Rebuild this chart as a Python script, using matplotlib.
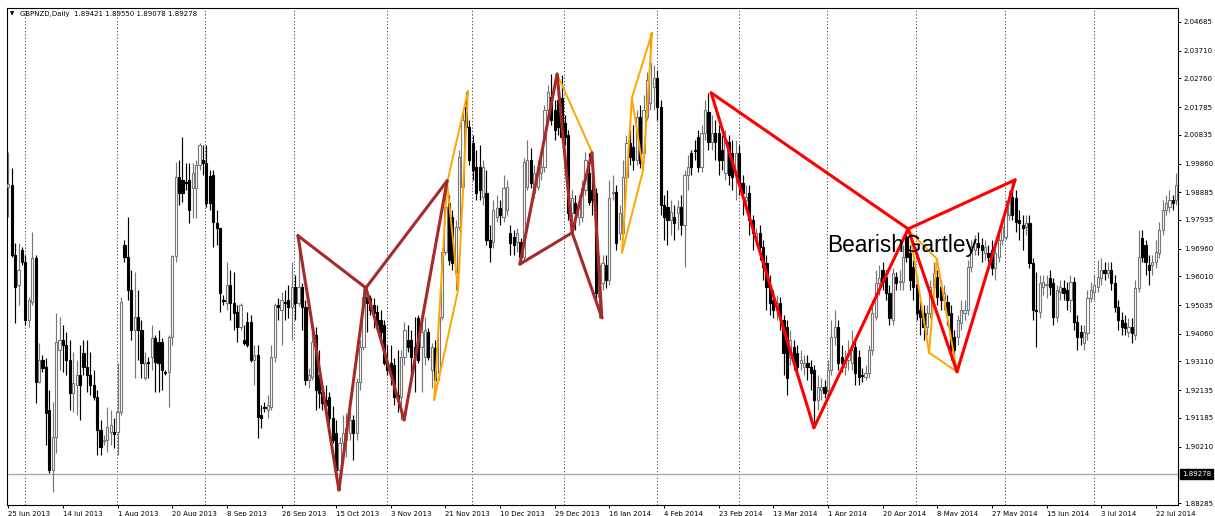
import matplotlib
matplotlib.use('Agg')
import matplotlib.pyplot as plt
from matplotlib.transforms import blended_transform_factory

# ---------------- data (GBPNZD daily) ----------------
opens = [
1.9906, 1.9913, 1.9674, 1.9572, 1.9691, 1.9650, 1.9453, 1.9514, 1.9664, 1.9241,
1.9316, 1.9292, 1.9146, 1.8941, 1.9054, 1.9350, 1.9384, 1.9367, 1.9316, 1.9204,
1.9231, 1.9265, 1.9340, 1.9292, 1.9265, 1.9231, 1.9190, 1.9078, 1.9041, 1.9044,
1.9071, 1.9071, 1.9071, 1.9139, 1.9708, 1.9667, 1.9555, 1.9419, 1.9463, 1.9419,
1.9255, 1.9309, 1.9326, 1.9391, 1.9377, 1.9377, 1.9275, 1.9275, 1.9395, 1.9671,
1.9940, 1.9930, 1.9923, 1.9930, 1.9903, 1.9903, 1.9981, 1.9998, 1.9988, 1.9944,
1.9947, 1.9783, 1.9766, 1.9521, 1.9511, 1.9572, 1.9511, 1.9480, 1.9429, 1.9384,
1.9446, 1.9446, 1.9316, 1.9333, 1.9129, 1.9156, 1.9146, 1.9156, 1.9326, 1.9504,
1.9487, 1.9514, 1.9521, 1.9497, 1.9565, 1.9511, 1.9565, 1.9497, 1.9248, 1.9258,
1.9402, 1.9265, 1.9207, 1.9180, 1.9190, 1.9119, 1.9068, 1.8941, 1.9034, 1.9044,
1.9068, 1.9112, 1.9068, 1.9241, 1.9360, 1.9531, 1.9528, 1.9504, 1.9480, 1.9453,
1.9436, 1.9306, 1.9306, 1.9299, 1.9197, 1.9190, 1.9326, 1.9384, 1.9384, 1.9360,
1.9460, 1.9360, 1.9326, 1.9412, 1.9282, 1.9357, 1.9272, 1.9463, 1.9684, 1.9852,
1.9804, 1.9613, 1.9770, 1.9906, 2.0179, 2.0110, 2.0056, 1.9974, 1.9974, 1.9872,
1.9886, 1.9725, 1.9718, 1.9804, 1.9834, 1.9804, 1.9828, 1.9749, 1.9735, 1.9718,
1.9718, 1.9667, 1.9906, 1.9998, 1.9886, 1.9906, 1.9954, 1.9974, 2.0168, 2.0213,
2.0168, 2.0203, 2.0210, 2.0124, 2.0083, 1.9817, 1.9852, 1.9804, 1.9804, 1.9896,
1.9954, 1.9896, 1.9886, 1.9531, 1.9579, 1.9640, 1.9589, 1.9886, 1.9889, 1.9749,
1.9749, 1.9940, 2.0056, 2.0042, 1.9998, 2.0144, 2.0022, 2.0144, 2.0193, 2.0247,
2.0278, 2.0179, 1.9845, 1.9838, 1.9793, 1.9804, 1.9817, 1.9838, 1.9776, 1.9947,
2.0022, 2.0032, 2.0076, 1.9974, 2.0090, 2.0161, 2.0059, 2.0090, 2.0090, 2.0032,
1.9954, 2.0059, 2.0022, 1.9954, 2.0022, 1.9920, 1.9862, 1.9886, 1.9793, 1.9732,
1.9749, 1.9701, 1.9647, 1.9565, 1.9521, 1.9487, 1.9511, 1.9453, 1.9429, 1.9326,
1.9360, 1.9340, 1.9306, 1.9292, 1.9306, 1.9292, 1.9282, 1.9180, 1.9214, 1.9224,
1.9214, 1.9282, 1.9395, 1.9429, 1.9326, 1.9292, 1.9316, 1.9306, 1.9360, 1.9326,
1.9265, 1.9258, 1.9272, 1.9350, 1.9463, 1.9579, 1.9623, 1.9599, 1.9545, 1.9453,
1.9599, 1.9582, 1.9582, 1.9735, 1.9681, 1.9633, 1.9572, 1.9487, 1.9477, 1.9429,
1.9477, 1.9565, 1.9599, 1.9565, 1.9521, 1.9514, 1.9477, 1.9395, 1.9395, 1.9443,
1.9477, 1.9487, 1.9633, 1.9691, 1.9715, 1.9708, 1.9681, 1.9681, 1.9691, 1.9630,
1.9667, 1.9725, 1.9735, 1.9811, 1.9872, 1.9869, 1.9793, 1.9776, 1.9770, 1.9783,
1.9647, 1.9487, 1.9480, 1.9565, 1.9572, 1.9596, 1.9579, 1.9463, 1.9548, 1.9562,
1.9555, 1.9521, 1.9582, 1.9446, 1.9412, 1.9374, 1.9409, 1.9528, 1.9548, 1.9565,
1.9596, 1.9623, 1.9613, 1.9623, 1.9579, 1.9497, 1.9453, 1.9443, 1.9412, 1.9429,
1.9402, 1.9562, 1.9732, 1.9708, 1.9640, 1.9640, 1.9650, 1.9681, 1.9759, 1.9828,
1.9838, 1.9862, 1.9862]

highs = [
2.0025, 1.9971, 1.9715, 1.9715, 1.9701, 1.9674, 1.9531, 1.9752, 1.9674, 1.9374,
1.9333, 1.9323, 1.9214, 1.9173, 1.9477, 1.9463, 1.9436, 1.9412, 1.9384, 1.9343,
1.9316, 1.9367, 1.9384, 1.9384, 1.9343, 1.9282, 1.9214, 1.9112, 1.9061, 1.9156,
1.9146, 1.9119, 1.9306, 1.9531, 1.9725, 1.9804, 1.9623, 1.9616, 1.9555, 1.9453,
1.9343, 1.9326, 1.9436, 1.9402, 1.9419, 1.9391, 1.9282, 1.9402, 1.9674, 1.9991,
1.9998, 2.0076, 1.9988, 1.9988, 1.9988, 1.9998, 2.0056, 2.0049, 2.0049, 1.9964,
1.9964, 1.9828, 1.9766, 1.9538, 1.9650, 1.9623, 1.9616, 1.9504, 1.9511, 1.9436,
1.9480, 1.9470, 1.9367, 1.9367, 1.9163, 1.9173, 1.9197, 1.9367, 1.9511, 1.9528,
1.9548, 1.9555, 1.9572, 1.9650, 1.9606, 1.9739, 1.9579, 1.9521, 1.9289, 1.9436,
1.9429, 1.9350, 1.9231, 1.9231, 1.9207, 1.9160, 1.9112, 1.9054, 1.9129, 1.9136,
1.9139, 1.9129, 1.9255, 1.9384, 1.9562, 1.9555, 1.9538, 1.9528, 1.9504, 1.9487,
1.9453, 1.9367, 1.9367, 1.9323, 1.9350, 1.9350, 1.9446, 1.9436, 1.9419, 1.9463,
1.9470, 1.9453, 1.9463, 1.9426, 1.9374, 1.9384, 1.9487, 1.9698, 1.9927, 1.9879,
1.9828, 1.9793, 2.0032, 2.0161, 2.0230, 2.0134, 2.0083, 2.0032, 2.0049, 1.9998,
1.9964, 1.9776, 1.9862, 1.9879, 1.9862, 1.9947, 1.9930, 1.9776, 1.9759, 1.9766,
1.9732, 2.0005, 2.0066, 2.0039, 1.9981, 1.9998, 1.9998, 2.0186, 2.0254, 2.0291,
2.0203, 2.0254, 2.0288, 2.0151, 2.0100, 1.9896, 1.9879, 1.9879, 1.9930, 2.0025,
2.0022, 1.9930, 1.9903, 1.9674, 1.9674, 1.9674, 1.9930, 1.9947, 1.9913, 1.9845,
1.9998, 2.0083, 2.0100, 2.0117, 2.0168, 2.0186, 2.0220, 2.0298, 2.0431, 2.0322,
2.0305, 2.0203, 1.9879, 1.9896, 1.9862, 1.9845, 1.9862, 1.9879, 1.9964, 2.0015,
2.0032, 2.0066, 2.0100, 2.0117, 2.0203, 2.0227, 2.0151, 2.0134, 2.0117, 2.0083,
2.0100, 2.0083, 2.0066, 2.0066, 2.0049, 1.9947, 1.9913, 1.9913, 1.9811, 1.9766,
1.9776, 1.9725, 1.9674, 1.9606, 1.9555, 1.9538, 1.9531, 1.9470, 1.9453, 1.9419,
1.9384, 1.9367, 1.9350, 1.9333, 1.9333, 1.9316, 1.9299, 1.9265, 1.9255, 1.9248,
1.9316, 1.9453, 1.9487, 1.9453, 1.9367, 1.9350, 1.9384, 1.9419, 1.9384, 1.9350,
1.9289, 1.9299, 1.9367, 1.9521, 1.9623, 1.9640, 1.9650, 1.9623, 1.9572, 1.9630,
1.9616, 1.9623, 1.9708, 1.9763, 1.9708, 1.9657, 1.9606, 1.9521, 1.9504, 1.9504,
1.9589, 1.9650, 1.9623, 1.9589, 1.9572, 1.9538, 1.9504, 1.9419, 1.9470, 1.9521,
1.9521, 1.9657, 1.9725, 1.9742, 1.9752, 1.9732, 1.9725, 1.9708, 1.9725, 1.9708,
1.9752, 1.9800, 1.9862, 1.9896, 1.9930, 1.9896, 1.9828, 1.9811, 1.9811, 1.9811,
1.9664, 1.9616, 1.9606, 1.9606, 1.9606, 1.9623, 1.9596, 1.9572, 1.9589, 1.9589,
1.9582, 1.9606, 1.9599, 1.9470, 1.9436, 1.9436, 1.9555, 1.9582, 1.9606, 1.9657,
1.9664, 1.9650, 1.9650, 1.9650, 1.9606, 1.9521, 1.9480, 1.9470, 1.9460, 1.9460,
1.9589, 1.9759, 1.9759, 1.9725, 1.9674, 1.9674, 1.9725, 1.9786, 1.9862, 1.9879,
1.9896, 1.9879, 1.9954]

lows = [
1.9804, 1.9667, 1.9443, 1.9504, 1.9640, 1.9436, 1.9429, 1.9504, 1.9170, 1.9238,
1.9275, 1.9027, 1.8931, 1.8866, 1.8999, 1.9282, 1.9275, 1.9265, 1.9146, 1.9139,
1.9129, 1.9112, 1.9265, 1.9207, 1.9197, 1.9180, 1.8992, 1.8992, 1.9027, 1.9002,
1.9027, 1.9017, 1.8992, 1.9129, 1.9650, 1.9521, 1.9384, 1.9255, 1.9316, 1.9255,
1.9248, 1.9255, 1.9282, 1.9207, 1.9207, 1.9214, 1.9265, 1.9156, 1.9367, 1.9650,
1.9845, 1.9855, 1.9896, 1.9783, 1.9800, 1.9800, 1.9964, 1.9947, 1.9838, 1.9828,
1.9701, 1.9708, 1.9480, 1.9504, 1.9487, 1.9453, 1.9419, 1.9377, 1.9419, 1.9367,
1.9360, 1.9309, 1.9231, 1.9051, 1.9085, 1.9139, 1.9119, 1.9146, 1.9309, 1.9453,
1.9367, 1.9453, 1.9460, 1.9384, 1.9453, 1.9501, 1.9419, 1.9231, 1.9221, 1.9248,
1.9146, 1.9153, 1.9146, 1.9129, 1.9095, 1.9034, 1.8914, 1.8873, 1.8985, 1.8985,
1.9044, 1.8975, 1.9044, 1.9214, 1.9350, 1.9412, 1.9470, 1.9426, 1.9419, 1.9384,
1.9299, 1.9265, 1.9231, 1.9163, 1.9139, 1.9112, 1.9299, 1.9343, 1.9265, 1.9207,
1.9306, 1.9207, 1.9299, 1.9316, 1.9221, 1.9231, 1.9248, 1.9453, 1.9674, 1.9640,
1.9623, 1.9555, 1.9759, 1.9896, 2.0100, 1.9981, 1.9930, 1.9862, 1.9862, 1.9845,
1.9708, 1.9650, 1.9698, 1.9786, 1.9776, 1.9786, 1.9811, 1.9674, 1.9674, 1.9684,
1.9643, 1.9657, 1.9896, 1.9903, 1.9869, 1.9896, 1.9930, 1.9957, 2.0151, 2.0117,
2.0066, 2.0083, 2.0059, 2.0049, 1.9793, 1.9749, 1.9759, 1.9776, 1.9786, 1.9879,
1.9845, 1.9811, 1.9521, 1.9460, 1.9555, 1.9562, 1.9572, 1.9862, 1.9691, 1.9725,
1.9739, 1.9930, 1.9981, 1.9964, 1.9981, 1.9971, 2.0005, 2.0134, 2.0168, 2.0168,
2.0134, 1.9811, 1.9725, 1.9708, 1.9742, 1.9725, 1.9759, 1.9742, 1.9633, 1.9896,
1.9947, 1.9998, 1.9957, 1.9957, 2.0066, 2.0032, 2.0032, 1.9998, 1.9947, 1.9964,
1.9930, 1.9913, 1.9896, 1.9862, 1.9879, 1.9811, 1.9845, 1.9742, 1.9691, 1.9708,
1.9657, 1.9589, 1.9487, 1.9470, 1.9460, 1.9453, 1.9419, 1.9265, 1.9197, 1.9299,
1.9282, 1.9265, 1.9282, 1.9265, 1.9248, 1.9214, 1.9095, 1.9146, 1.9180, 1.9187,
1.9197, 1.9265, 1.9367, 1.9282, 1.9275, 1.9265, 1.9282, 1.9282, 1.9231, 1.9231,
1.9241, 1.9248, 1.9255, 1.9333, 1.9453, 1.9538, 1.9555, 1.9521, 1.9436, 1.9436,
1.9555, 1.9555, 1.9555, 1.9650, 1.9555, 1.9521, 1.9453, 1.9402, 1.9384, 1.9402,
1.9460, 1.9548, 1.9504, 1.9487, 1.9487, 1.9436, 1.9316, 1.9289, 1.9367, 1.9419,
1.9453, 1.9470, 1.9616, 1.9674, 1.9674, 1.9650, 1.9657, 1.9650, 1.9606, 1.9589,
1.9650, 1.9708, 1.9725, 1.9793, 1.9793, 1.9752, 1.9725, 1.9691, 1.9742, 1.9630,
1.9453, 1.9360, 1.9460, 1.9538, 1.9528, 1.9538, 1.9436, 1.9446, 1.9521, 1.9521,
1.9487, 1.9480, 1.9419, 1.9350, 1.9367, 1.9350, 1.9384, 1.9514, 1.9521, 1.9548,
1.9572, 1.9589, 1.9596, 1.9555, 1.9480, 1.9419, 1.9402, 1.9402, 1.9395, 1.9374,
1.9384, 1.9548, 1.9650, 1.9606, 1.9572, 1.9606, 1.9630, 1.9664, 1.9742, 1.9811,
1.9821, 1.9828, 1.9845]

closes = [
1.9916, 1.9674, 1.9565, 1.9623, 1.9650, 1.9453, 1.9521, 1.9664, 1.9241, 1.9316,
1.9289, 1.9136, 1.8941, 1.9054, 1.9377, 1.9384, 1.9367, 1.9316, 1.9204, 1.9238,
1.9265, 1.9231, 1.9292, 1.9265, 1.9231, 1.9190, 1.9078, 1.9020, 1.9044, 1.9088,
1.9095, 1.9064, 1.9139, 1.9514, 1.9667, 1.9555, 1.9419, 1.9463, 1.9419, 1.9306,
1.9306, 1.9306, 1.9391, 1.9309, 1.9306, 1.9282, 1.9272, 1.9395, 1.9671, 1.9940,
1.9886, 1.9886, 1.9920, 1.9828, 1.9954, 1.9981, 2.0049, 1.9988, 1.9852, 1.9852,
1.9786, 1.9766, 1.9545, 1.9518, 1.9572, 1.9511, 1.9477, 1.9429, 1.9504, 1.9374,
1.9367, 1.9316, 1.9333, 1.9122, 1.9119, 1.9153, 1.9163, 1.9326, 1.9504, 1.9497,
1.9521, 1.9511, 1.9497, 1.9565, 1.9511, 1.9565, 1.9497, 1.9248, 1.9265, 1.9377,
1.9214, 1.9204, 1.9170, 1.9163, 1.9119, 1.9044, 1.8941, 1.9034, 1.9068, 1.9085,
1.9112, 1.9068, 1.9241, 1.9360, 1.9531, 1.9511, 1.9487, 1.9477, 1.9436, 1.9412,
1.9306, 1.9282, 1.9265, 1.9190, 1.9180, 1.9326, 1.9419, 1.9360, 1.9326, 1.9333,
1.9316, 1.9412, 1.9419, 1.9326, 1.9360, 1.9248, 1.9463, 1.9684, 1.9838, 1.9657,
1.9647, 1.9770, 2.0008, 2.0134, 2.0110, 1.9998, 1.9964, 1.9886, 1.9896, 1.9974,
1.9725, 1.9701, 1.9828, 1.9834, 1.9811, 1.9903, 1.9906, 1.9715, 1.9708, 1.9749,
1.9667, 1.9991, 1.9998, 1.9920, 1.9954, 1.9974, 1.9974, 2.0168, 2.0230, 2.0134,
2.0100, 2.0110, 2.0076, 2.0076, 1.9817, 1.9869, 1.9817, 1.9852, 1.9903, 1.9998,
1.9855, 1.9862, 1.9545, 1.9640, 1.9647, 1.9589, 1.9869, 1.9889, 1.9715, 1.9817,
1.9940, 2.0056, 2.0008, 1.9998, 2.0144, 1.9988, 2.0168, 2.0271, 2.0329, 2.0278,
2.0179, 1.9845, 1.9804, 1.9793, 1.9821, 1.9783, 1.9838, 1.9776, 1.9947, 1.9974,
1.9974, 2.0029, 1.9974, 2.0090, 2.0168, 2.0059, 2.0090, 2.0059, 1.9998, 1.9998,
2.0066, 1.9947, 1.9940, 2.0022, 1.9920, 1.9886, 1.9872, 1.9793, 1.9749, 1.9749,
1.9701, 1.9633, 1.9565, 1.9511, 1.9487, 1.9511, 1.9463, 1.9340, 1.9255, 1.9384,
1.9306, 1.9292, 1.9316, 1.9306, 1.9292, 1.9272, 1.9180, 1.9224, 1.9224, 1.9204,
1.9282, 1.9395, 1.9429, 1.9306, 1.9306, 1.9316, 1.9340, 1.9350, 1.9272, 1.9258,
1.9262, 1.9272, 1.9350, 1.9477, 1.9579, 1.9596, 1.9582, 1.9545, 1.9460, 1.9613,
1.9579, 1.9586, 1.9667, 1.9667, 1.9589, 1.9565, 1.9477, 1.9463, 1.9429, 1.9477,
1.9565, 1.9613, 1.9531, 1.9521, 1.9545, 1.9470, 1.9350, 1.9350, 1.9453, 1.9487,
1.9487, 1.9633, 1.9701, 1.9715, 1.9701, 1.9691, 1.9701, 1.9667, 1.9630, 1.9681,
1.9725, 1.9770, 1.9828, 1.9862, 1.9811, 1.9786, 1.9783, 1.9766, 1.9783, 1.9647,
1.9487, 1.9484, 1.9579, 1.9582, 1.9575, 1.9565, 1.9463, 1.9555, 1.9565, 1.9545,
1.9521, 1.9582, 1.9446, 1.9395, 1.9395, 1.9412, 1.9528, 1.9555, 1.9572, 1.9599,
1.9623, 1.9613, 1.9623, 1.9579, 1.9497, 1.9453, 1.9429, 1.9426, 1.9429, 1.9409,
1.9562, 1.9667, 1.9667, 1.9650, 1.9623, 1.9650, 1.9684, 1.9759, 1.9828, 1.9852,
1.9862, 1.9852, 1.9913]

date_ticks = [0, 16, 32, 48, 64, 80, 96, 112, 128, 144, 160, 176, 192, 208,
              224, 240, 256, 272, 288, 304, 320, 336]
date_labels = ['25 Jun 2013', '14 Jul 2013', '1 Aug 2013', '20 Aug 2013',
               '8 Sep 2013', '26 Sep 2013', '15 Oct 2013', '3 Nov 2013',
               '21 Nov 2013', '10 Dec 2013', '29 Dec 2013', '16 Jan 2014',
               '4 Feb 2014', '23 Feb 2014', '13 Mar 2014', '1 Apr 2014',
               '20 Apr 2014', '8 May 2014', '27 May 2014', '15 Jun 2014',
               '3 Jul 2014', '22 Jul 2014']
month_grid = [4.9, 31.8, 57.6, 83.8, 110.8, 135.9, 162.8, 189.9, 214.0,
              239.8, 265.8, 291.8, 317.8]
price_ticks = [2.04685, 2.03710, 2.02760, 2.01785, 2.00835, 1.99860, 1.98885,
               1.97935, 1.96960, 1.96010, 1.95035, 1.94060, 1.93110, 1.92135,
               1.91185, 1.90210, 1.88285]
bid_price = 1.89278
title_text = 'GBPNZD,Daily  1.89421 1.89550 1.89078 1.89278'

# harmonic patterns: (bar, price) points
brown1 = [(84.8, 1.9740), (96.8, 1.8873), (104.7, 1.9562), (115.9, 1.9112), (128.5, 1.9927)]
brown2 = [(149.8, 1.9643), (160.7, 2.0291), (165.1, 1.9750), (170.9, 2.0022), (173.8, 1.9460)]
red1 = [(205.8, 2.0227), (235.9, 1.9085), (263.5, 1.9763), (277.8, 1.9276), (294.8, 1.9930)]
orange1 = [(124.7, 1.9180), (128.5, 1.9920), (131.7, 1.9555), (134.6, 2.0234)]
orange2 = [(160.7, 2.0291), (170.9, 2.0025)]
orange3 = [(179.7, 1.9682), (182.6, 2.0210), (185.9, 1.9964), (188.5, 2.0432)]
orange4 = [(264.0, 1.9753), (269.6, 1.9341), (271.9, 1.9661), (277.8, 1.9276)]
pattern_label = 'BearishGartley'
pattern_label_pos = (239.7, 1.9685)

# ---------------- figure ----------------
W, H = 1215, 516
fig = plt.figure(figsize=(W / 100, H / 100), dpi=100)
fig.patch.set_facecolor('white')
ax = fig.add_axes([7 / W, 11 / H, (1178 - 7) / W, (505 - 8) / H])
ax.set_facecolor('white')

for g in month_grid:
    ax.axvline(g, color='#333333', lw=0.6, ls=(0, (1.6, 2.4)), zorder=0)

ax.axhline(bid_price, color='#A3ADB8', lw=1.0, zorder=1)

bw = 0.64
for i in range(len(closes)):
    o, h, l, c = opens[i], highs[i], lows[i], closes[i]
    bull = c >= o
    wick_col = '#777777' if bull else 'black'
    ax.vlines(i, l, h, color=wick_col, lw=0.85, zorder=2)
    lo, hi = min(o, c), max(o, c)
    height = max(hi - lo, 0.00012)
    if bull:
        ax.bar(i, height, width=bw, bottom=lo, color='white', edgecolor='#777777',
               linewidth=0.8, zorder=3)
    else:
        ax.bar(i, height, width=bw, bottom=lo, color='black', edgecolor='black',
               linewidth=0.8, zorder=3)


def draw_five(pts, color, lw, z):
    segs = [(0, 1), (1, 2), (2, 3), (3, 4), (0, 2), (2, 4)]
    for a, b in segs:
        ax.plot([pts[a][0], pts[b][0]], [pts[a][1], pts[b][1]], color=color, lw=lw,
                solid_capstyle='round', zorder=z)


def draw_four(pts, color, lw, z):
    segs = [(0, 1), (1, 2), (2, 3), (0, 2), (1, 3)]
    for a, b in segs:
        ax.plot([pts[a][0], pts[b][0]], [pts[a][1], pts[b][1]], color=color, lw=lw,
                solid_capstyle='round', zorder=z)


orange = '#FFA500'
draw_four(orange1, orange, 1.4, 4)
draw_four(orange3, orange, 1.4, 4)
draw_four(orange4, orange, 1.4, 4)
ax.plot([p[0] for p in orange2], [p[1] for p in orange2], color=orange, lw=1.4, zorder=4)
draw_five(brown1, '#A52A2A', 2.2, 5)
draw_five(brown2, '#A52A2A', 2.2, 5)
draw_five(red1, '#FF0000', 2.2, 6)

ax.text(pattern_label_pos[0], pattern_label_pos[1], pattern_label, fontsize=16.3,
        family='Liberation Sans', color='black', va='baseline', ha='left', zorder=7)

# axes limits and ticks
ax.set_xlim(-0.38, 342.5)
ax.set_ylim(1.88217, 2.05162)

ax.yaxis.tick_right()
ax.set_yticks(price_ticks)
ax.set_yticklabels([f'{v:.5f}' for v in price_ticks])
ax.tick_params(axis='y', length=2.5, width=0.7, pad=1.8, labelsize=5, colors='black')

ax.set_xticks(date_ticks)
ax.set_xticklabels(date_labels)
ax.tick_params(axis='x', length=2.5, width=0.7, pad=1.5, labelsize=5, colors='black')
for lab in ax.get_xticklabels():
    lab.set_ha('left')

for s in ax.spines.values():
    s.set_color('black')
    s.set_linewidth(0.8)

tr = blended_transform_factory(ax.transAxes, ax.transData)
ax.text(1.0 + 4 / 1171, bid_price, f'{bid_price:.5f}', transform=tr, ha='left', va='center',
        fontsize=5, color='white', zorder=10,
        bbox=dict(boxstyle='square,pad=0.25', fc='black', ec='black'))

fig.text(10 / W, 1 - 14 / H, '\u25bc', fontsize=4, color='black', va='center', ha='left')
fig.text(20 / W, 1 - 14 / H, title_text, fontsize=5, color='black', va='center', ha='left')

fig.savefig('out.png', dpi=100, facecolor='white')
